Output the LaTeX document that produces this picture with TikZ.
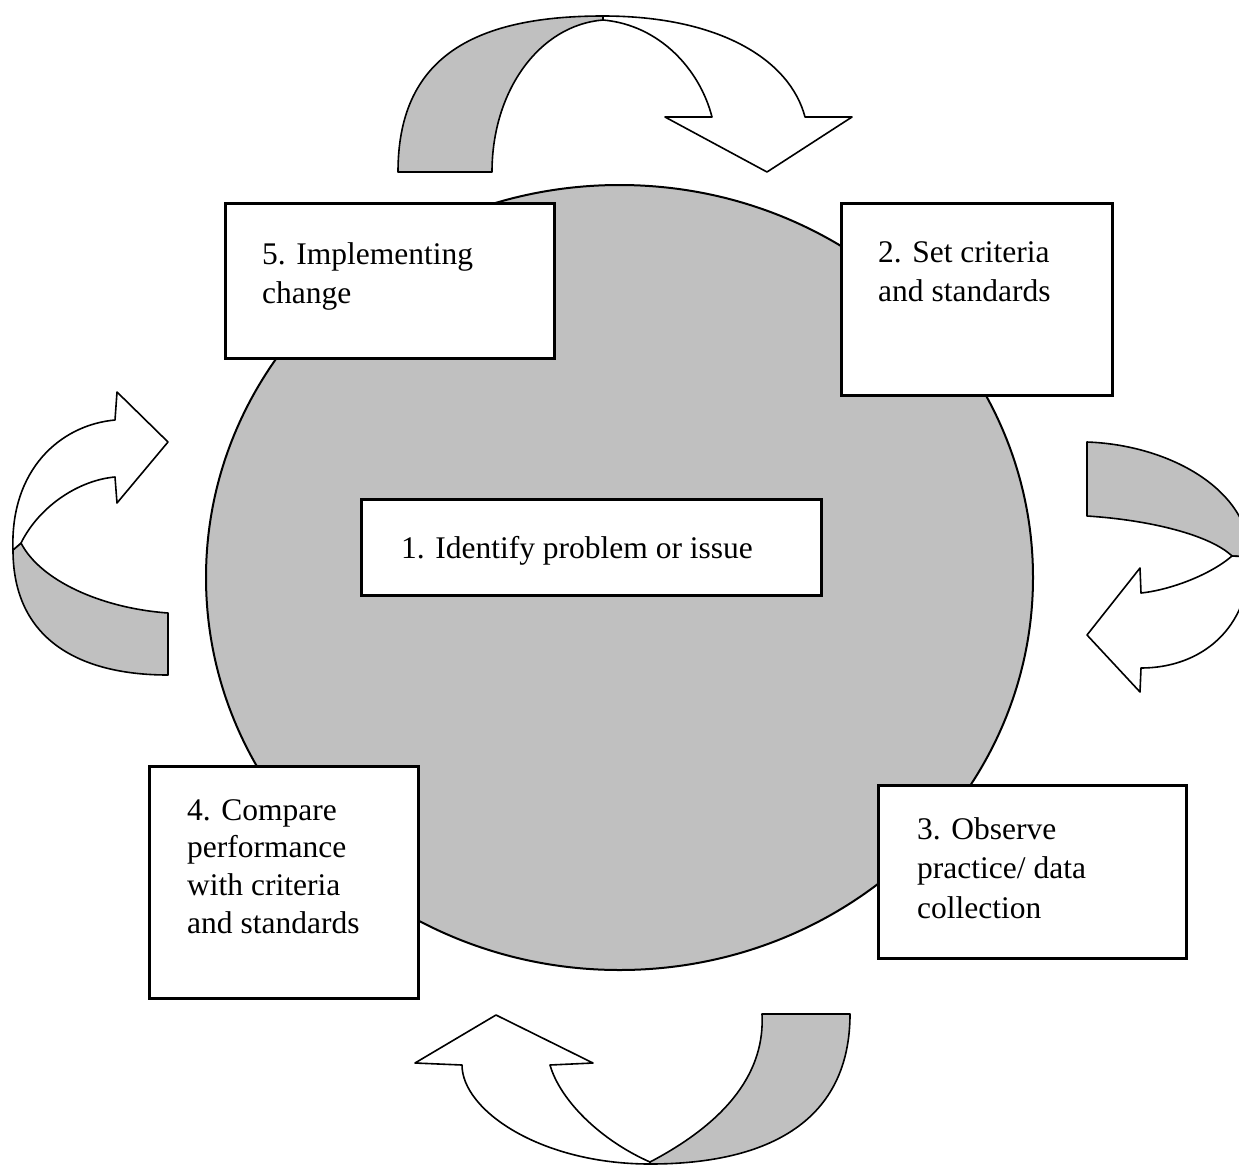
\documentclass[tikz,border=0pt]{standalone}
\usepackage{fontspec}
\setmainfont{Liberation Serif}
\usetikzlibrary{shapes.geometric}
\definecolor{shade}{RGB}{192,192,192}
\newcommand\stagefont{\fontsize{31.5}{39.5}\selectfont}
\newcommand\stagefonttight{\fontsize{31.5}{37.7}\selectfont}
\tikzset{
  ribbon/.style={draw=black, line width=1.6pt, line join=round},
  backside/.style={ribbon, fill=shade},
  frontside/.style={ribbon, fill=white},
  stagebox/.style={draw=black, line width=2.6pt, fill=white, inner sep=0pt, anchor=north west},
  stagetext/.style={inner sep=0pt, anchor=north west, align=left, font=\stagefont},
}
\begin{document}
\begin{tikzpicture}[x=1pt,y=-1pt]
\useasboundingbox (0,0) rectangle (1239,1165);
\fill[white] (0,0) rectangle (1239,1165);
\begin{scope}
\clip (0,0) rectangle (1239,1165);
% top arrow
\path[backside] (398,172) .. controls (398,60) and (470,16) .. (603,16) -- (603,20)
  .. controls (540,25) and (492,90) .. (492,172) -- cycle;
\path[frontside] (603,16) .. controls (720,16) and (790,60) .. (805,117) -- (852,117)
  -- (767,172) -- (665,117) -- (712,117) .. controls (700,70) and (660,25) .. (603,20) -- cycle;
% right arrow
\path[backside] (1087,442) .. controls (1170,445) and (1250,490) .. (1250,557) -- (1232,556)
  .. controls (1210,535) and (1150,520) .. (1087,516) -- cycle;
\path[frontside] (1232,556) .. controls (1210,575) and (1170,590) .. (1141,593) -- (1140,568)
  -- (1087,635) -- (1140,692) -- (1141,668) .. controls (1200,668) and (1250,630) .. (1250,557) -- cycle;
% left arrow
\path[backside] (168,613) .. controls (100,608) and (40,580) .. (21,543) -- (13,550)
  .. controls (13,640) and (80,675) .. (168,675) -- cycle;
\path[frontside] (13,550) .. controls (10,470) and (60,425) .. (115,420) -- (117,392)
  -- (168,442) -- (117,503) -- (115,477) .. controls (80,480) and (40,505) .. (21,543) -- cycle;
% bottom arrow
\path[backside] (762,1014) -- (850,1014) .. controls (850,1120) and (770,1164) .. (650,1164)
  -- (650,1162) .. controls (730,1120) and (765,1070) .. (762,1014) -- cycle;
\path[frontside] (650,1164) .. controls (540,1164) and (462,1110) .. (462,1065) -- (415,1063)
  -- (496,1015) -- (593,1063) -- (550,1065) .. controls (560,1100) and (600,1140) .. (650,1162) -- cycle;
\end{scope}
% central disc
\node[ellipse, draw=black, line width=2pt, fill=shade, minimum width=827pt, minimum height=785pt, inner sep=0pt] (hub) at (619.5,577.5) {};
% boxes
\node[stagebox, minimum width=329pt, minimum height=155pt] (box5) at (224,202) {};
\node[stagebox, minimum width=271pt, minimum height=192pt] (box2) at (840,202) {};
\node[stagebox, minimum width=460pt, minimum height=96pt] (box1) at (360,498) {};
\node[stagebox, minimum width=269pt, minimum height=232pt] (box4) at (148,765) {};
\node[stagebox, minimum width=308pt, minimum height=173pt] (box3) at (877,784) {};
% texts
\node[stagetext] (txt5) at (262,242) {5. Implementing\\change};
\node[stagetext] (txt2) at (878,241) {2. Set criteria\\and standards};
\node[stagetext] (txt1) at (401,536) {1. Identify problem or issue};
\node[stagetext, font=\stagefonttight] (txt4) at (187,799) {4. Compare\\performance\\with criteria\\and standards};
\node[stagetext] (txt3) at (917,817) {3. Observe\\practice/ data\\collection};
\end{tikzpicture}
\end{document}
